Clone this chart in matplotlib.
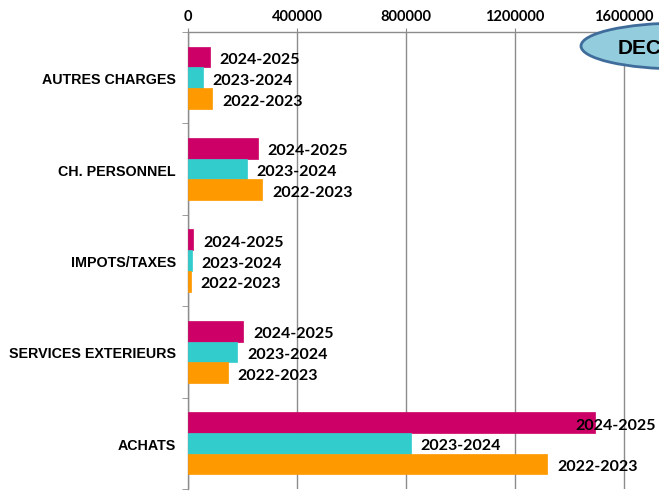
import matplotlib
matplotlib.use("Agg")
import matplotlib.pyplot as plt
from matplotlib.patches import Ellipse
import numpy as np

# data
categories = ["AUTRES CHARGES", "CH. PERSONNEL", "IMPOTS/TAXES",
              "SERVICES EXTERIEURS", "ACHATS"]
series = ["2024-2025", "2023-2024", "2022-2023"]
v_2024_2025 = [81000, 256000, 19500, 203000, 1494000]
v_2023_2024 = [55000, 216000, 15000, 181000, 818000]
v_2022_2023 = [89000, 273000, 10000, 147000, 1318000]
x_ticks = [0, 400000, 800000, 1200000, 1600000]

values = [v_2024_2025, v_2023_2024, v_2022_2023]
colors = ["#CC0066", "#33CCCC", "#FF9900"]

W, H = 659, 502
fig = plt.figure(figsize=(W / 100, H / 100), dpi=100)
# axes extends past the right edge of the figure, like the cropped original
ax = fig.add_axes([188 / W, 12 / H, 545 / W, 457 / H])

grey = "#8C8C8C"
bar_h = 0.227
y = np.arange(len(categories))
lab_kw = dict(va="center", fontsize=11.5, fontweight="bold", family="Lato",
              zorder=5, annotation_clip=False)

texts = []
for i, (name, vals, col) in enumerate(zip(series, values, colors)):
    pos = y + (i - 1) * bar_h
    ax.barh(pos, vals, height=bar_h, color=col, edgecolor=col, lw=0.5, zorder=3)
    for p, v in zip(pos, vals):
        t = ax.annotate(name, xy=(v, p), xytext=(7, -1.5), textcoords="offset points",
                        ha="left", **lab_kw)
        texts.append((t, name, p))

ax.set_xlim(0, 2000000)
ax.set_ylim(4.5, -0.5)
ax.set_xticks(x_ticks + [2000000])
ax.set_xticklabels([str(v) for v in x_ticks] + [""])
ax.xaxis.tick_top()
ax.tick_params(axis="x", which="major", length=3, color=grey, pad=3.5,
               labelsize=10.5)
for lab in ax.get_xticklabels():
    lab.set_fontweight("bold")
    lab.set_family("Lato")

ax.set_yticks(y)
ax.set_yticklabels(categories)
ax.set_yticks(np.arange(-0.5, len(categories)), minor=True)
ax.tick_params(axis="y", which="major", length=0, pad=12 * 0.72)
ax.tick_params(axis="y", which="minor", length=4, color=grey)
for lab in ax.get_yticklabels():
    lab.set_fontweight("bold")
    lab.set_family("Liberation Sans")
    lab.set_fontsize(10.3)

ax.grid(axis="x", color=grey, lw=1, zorder=0)
ax.set_axisbelow(True)
for s in ["bottom", "right"]:
    ax.spines[s].set_visible(False)
for s in ["top", "left"]:
    ax.spines[s].set_color(grey)
    ax.spines[s].set_linewidth(1)

# keep labels inside the figure (the long ACHATS bar)
fig.canvas.draw()
r = fig.canvas.get_renderer()
for t, name, p in texts:
    bb = t.get_window_extent(r)
    if bb.x1 > W - 3:
        t.remove()
        ax.annotate(name, xy=((W - 3) / W, p), xycoords=("figure fraction", "data"),
                    xytext=(0, -1.5), textcoords="offset points", ha="right", **lab_kw)

# title bubble, cut off at the right edge
ell = Ellipse((681 / W, 455 / H), 200 / W, 46 / H, transform=fig.transFigure,
              facecolor="#93CDDD", edgecolor="#3F6C9B", lw=2, zorder=10)
fig.add_artist(ell)
fig.text(618 / W, 454 / H, "DEC", fontsize=15, fontweight="bold",
         family="Liberation Sans", va="center", ha="left", zorder=11)

fig.savefig("out.png", dpi=100)
